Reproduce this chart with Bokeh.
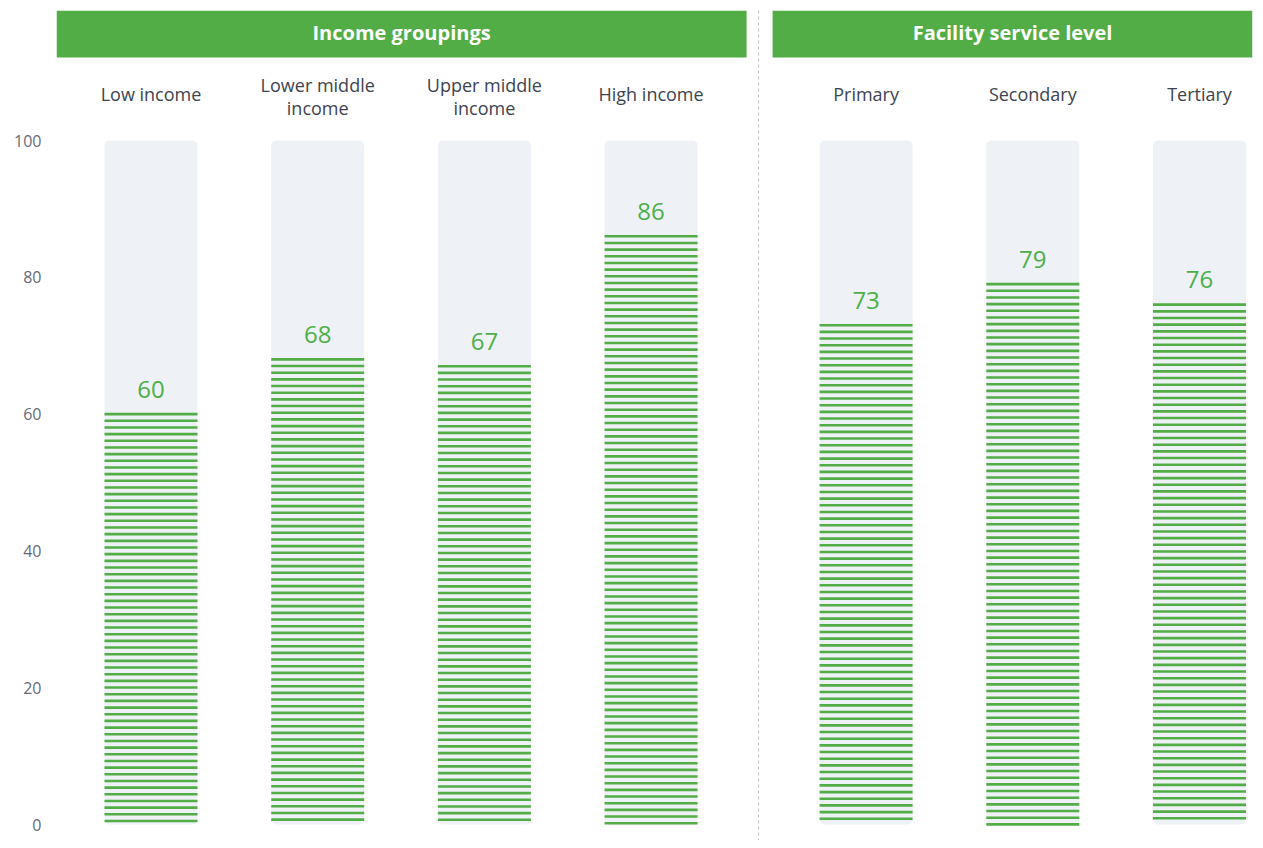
import numpy as np
from bokeh.plotting import figure
from bokeh.models import Span, FixedTicker
from bokeh.core.properties import value
from bokeh.embed import file_html
from bokeh.resources import INLINE

# ---- data ----
groups = ["Income groupings", "Facility service level"]
categories = ["Low income", "Lower middle\nincome", "Upper middle\nincome", "High income",
              "Primary", "Secondary", "Tertiary"]
category_group = [0, 0, 0, 0, 1, 1, 1]
values = [60, 68, 67, 86, 73, 79, 76]
value_labels = ["60", "68", "67", "86", "73", "79", "76"]
y_ticks = [0, 20, 40, 60, 80, 100]

# ---- style / layout ----
GREEN = "#52ad46"
TEXT_GREEN = "#4caf48"
BAR_BG = "#eef1f6"
GROUP_GAP = 0.29
BAR_W = 0.558
PX_PER_UNIT = 6.84
STRIPE_STEP_PX = 6.67
FONT = "Open Sans"

xpos = [i + g * GROUP_GAP for i, g in enumerate(category_group)]
x_start, x_end = -0.567, 6.608
y_start = -(840 - 824) / PX_PER_UNIT
y_end = 100 + (140 - 10) / PX_PER_UNIT
header_bottom = 100 + (140 - 57) / PX_PER_UNIT

p = figure(width=1255, height=840, output_backend="svg", toolbar_location=None,
           x_range=(x_start, x_end), y_range=(y_start, y_end),
           min_border_left=56, min_border_right=3, min_border_top=10, min_border_bottom=0)
p.xaxis.visible = False
p.xgrid.visible = False
p.ygrid.visible = False
p.outline_line_color = None
p.background_fill_color = "white"
p.border_fill_color = "white"

ax = p.yaxis[0]
ax.ticker = FixedTicker(ticks=y_ticks)
ax.axis_line_color = None
ax.major_tick_line_color = None
ax.minor_tick_line_color = None
ax.major_tick_out = 0
ax.major_tick_in = 0
ax.major_label_standoff = 15
ax.major_label_text_font = FONT
ax.major_label_text_font_size = "16px"
ax.major_label_text_color = "#676b76"

# divider
divider = (xpos[3] + xpos[4]) / 2
p.add_layout(Span(location=divider, dimension="height", line_color="#b9bccb",
                  line_width=1, line_dash="3 3"))

# header boxes
unit_px = 1196 / (x_end - x_start)
h_left = [x_start, divider + 14 / unit_px]
h_right = [divider - 12 / unit_px, x_end]
p.quad(left=h_left, right=h_right, bottom=header_bottom, top=y_end,
       fill_color=GREEN, line_color=None)
p.text(x=[(a + b) / 2 for a, b in zip(h_left, h_right)], y=(header_bottom + y_end) / 2,
       y_offset=-2,
       text=groups, text_font=value(FONT), text_font_style="bold", text_font_size="20px",
       text_color="white", text_align="center", text_baseline="middle")

# category labels
label_shift = [3 if "\n" in c else 0 for c in categories]
p.text(x=xpos, y=100 + (140 - 93) / PX_PER_UNIT, y_offset=label_shift, text=categories,
       text_font=value(FONT), text_font_size="18px", text_color="#3d4350",
       text_align="center", text_baseline="middle", text_line_height=0.96)

# bar backgrounds
p.vbar(x=xpos, top=100, bottom=0, width=BAR_W, fill_color=BAR_BG, line_color=None,
       border_radius=5)

# stripes derived from the values
step = STRIPE_STEP_PX / PX_PER_UNIT
sx, sy = [], []
for x, v in zip(xpos, values):
    ys = np.arange(v, 0, -step)
    sx.extend([x] * len(ys))
    sy.extend(ys.tolist())
p.rect(x=sx, y=sy, width=BAR_W, height=2.6, height_units="screen",
       fill_color=GREEN, line_color=None)

# value labels
p.text(x=xpos, y=values, text=value_labels, y_offset=-25, text_font=value(FONT),
       text_font_size="24px", text_color=TEXT_GREEN, text_align="center",
       text_baseline="middle")

open("out.html", "w").write(file_html(p, INLINE))
